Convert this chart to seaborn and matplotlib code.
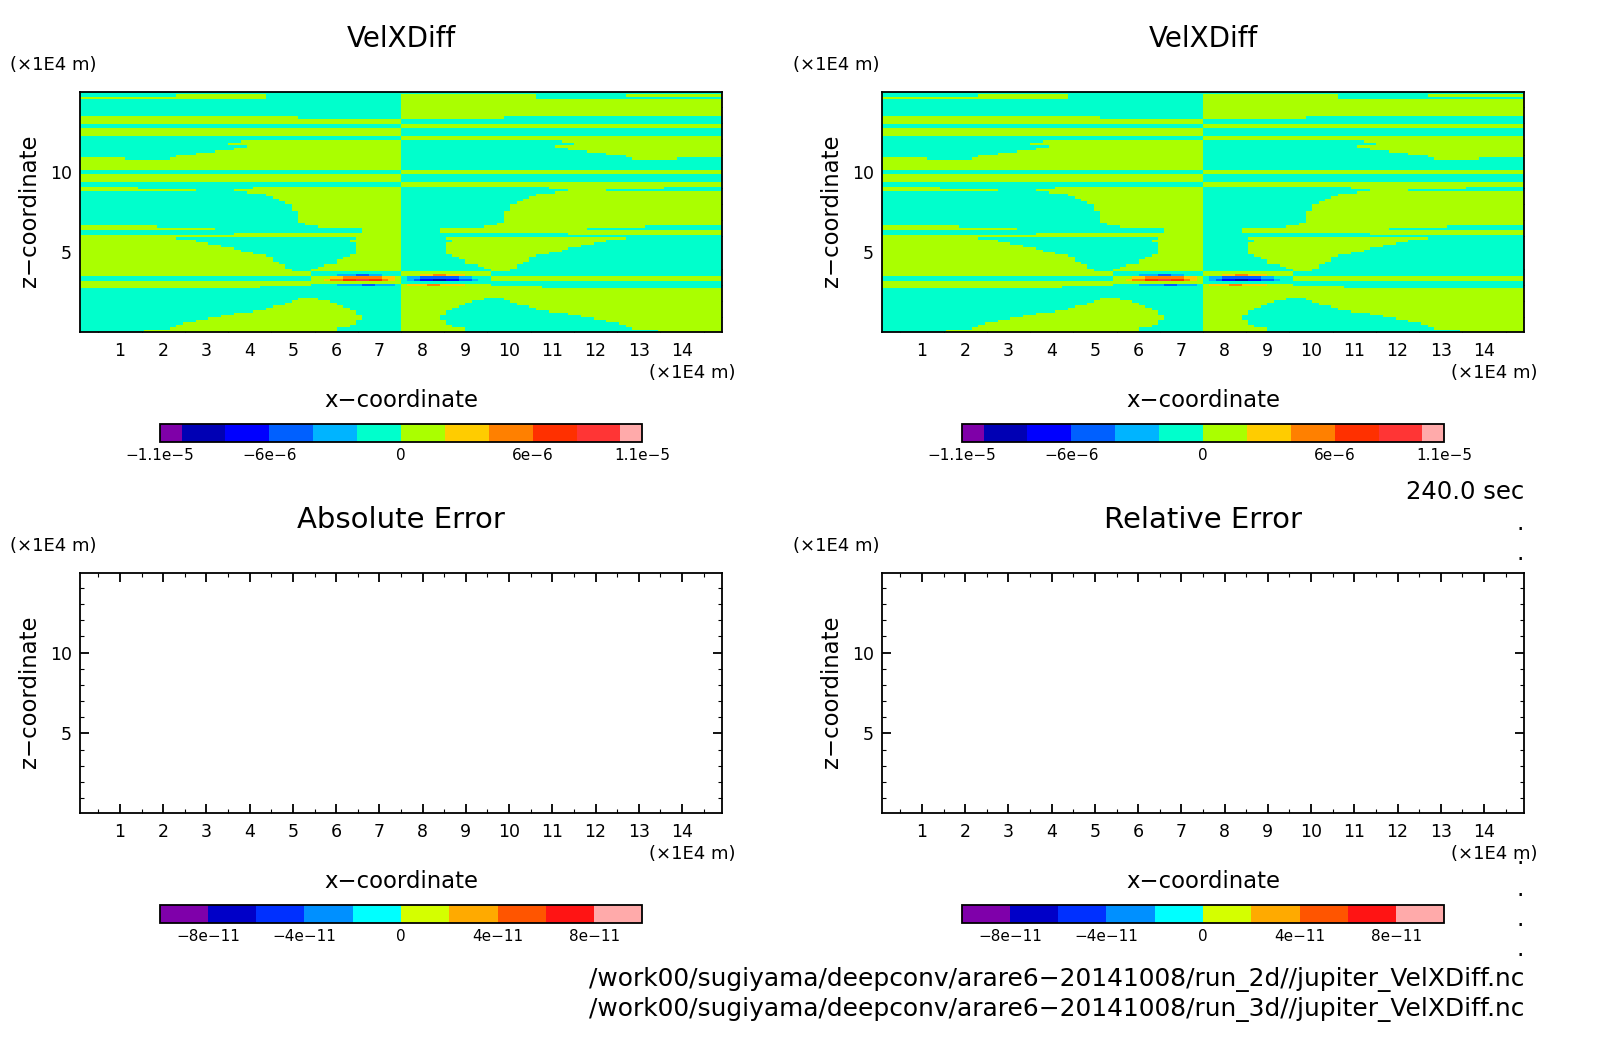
import numpy as np
import matplotlib
matplotlib.use("Agg")
import matplotlib.pyplot as plt
from matplotlib.colors import ListedColormap, BoundaryNorm
import seaborn as sns

W, H = 1604, 1054

# colour classes of the VelXDiff field (m/s, middle of each contour band)
band_value = {"K": -9e-6, "D": -7e-6, "B": -5e-6, "L": -3e-6, "C": -1e-6,
              "G": 1e-6, "Y": 3e-6, "O": 5e-6, "R": 7e-6, "S": 9e-6}

# rows top to bottom, "G29" = class G up to column 29
west_rows = [
    "C50", "C15 G29 C50", "G29 C50", "C50", "C50", "C50", "C50", "C50", "C50", "C50",
    "G34 C50", "G50", "G50", "C50", "C50", "G50", "G50", "G50", "C50", "C50",
    "C25 G50", "C23 G50", "C26 G50", "C24 G50", "C21 G50", "C18 G50", "C15 G50", "G7 C14 G50",
    "G50", "G50", "G50", "G50", "C50", "C50", "G50", "G50", "G50", "C50", "C50",
    "G9 C27 G50", "G18 C24 G50", "C26 G50", "C29 G50", "C30 G50", "C31 G50", "C32 G50",
    "C33 G50", "C33 G50", "C33 G50", "C34 G50", "C34 G50", "C34 G50", "C34 G50", "C34 G50",
    "C35 G50", "G12 C37 G50", "G21 C44 G50", "C44 G50", "C24 G50", "G50",
    "G15 C43 G50", "G18 C42 G50", "G20 C43 G50", "G22 C43 G50", "G24 C43 G50", "G25 C43 G50",
    "G27 C43 G50", "G29 C42 G50", "G30 C41 G50", "G30 C40 G50", "G31 C40 G50", "G32 C38 G50",
    "G32 C37 G50", "G33 C36 G50", "G36 C50", "G36 C40 L43 B45 L47 C50",
    "C36 G39 Y41 O47 Y49 G50", "C36 G38 Y39 O41 R43 S45 R47 O48 Y49 G50",
    "G50", "G36 C40 L44 B46 L49 C50", "G28 C50", "C50", "C50", "C50", "C50",
    "C34 G37 C50", "C33 G39 C50", "C32 G40 C50", "C30 G41 C50", "C29 G42 C50", "C27 G43 C50",
    "C24 G43 C50", "C22 G44 C50", "C20 G44 C50", "C18 G43 C50", "C16 G43 C50", "C15 G42 C50",
    "C14 G40 C50", "C10 G40 C50",
]
east_rows = [
    "C100", "G71 C85 G100", "G71 C100", "G100", "G100", "G100", "G100", "G100", "G100", "G100",
    "G66 C100", "C100", "C100", "G100", "G100", "C100", "C100", "C100", "G100", "G100",
    "C75 G100", "C77 G100", "C74 G100", "C76 G100", "C79 G100", "C82 G100", "C85 G100", "C86 G93 C100",
    "C100", "C100", "C100", "C100", "G100", "G100", "C100", "C100", "C100", "G100", "G100",
    "C73 G91 C100", "C76 G82 C100", "C74 G100", "C71 G100", "C70 G100", "C69 G100", "C68 G100",
    "C67 G100", "C67 G100", "C67 G100", "C66 G100", "C66 G100", "C66 G100", "C66 G100", "C66 G100",
    "C65 G100", "C63 G88 C100", "C56 G79 C100", "C56 G100", "C76 G100", "C100",
    "C57 G85 C100", "C58 G82 C100", "C57 G80 C100", "C57 G78 C100", "C57 G76 C100", "C57 G75 C100",
    "C57 G73 C100", "C58 G71 C100", "C59 G70 C100", "C60 G70 C100", "C60 G69 C100", "C62 G68 C100",
    "C63 G68 C100", "C64 G67 C100", "G64 C100", "G53 Y55 O57 Y60 G64 C100",
    "C51 L53 B59 L61 C64 G100", "C51 L52 B53 D55 K57 D59 B61 L62 C64 G100",
    "C100", "G51 Y54 O56 Y60 G64 C100", "G72 C100", "G100", "G100", "G100", "G100",
    "G63 C66 G100", "G61 C67 G100", "G60 C68 G100", "G59 C70 G100", "G58 C71 G100", "G57 C73 G100",
    "G57 C76 G100", "G56 C78 G100", "G56 C80 G100", "G57 C82 G100", "G57 C84 G100", "G58 C85 G100",
    "G60 C86 G100", "G60 C90 G100",
]

vel_levels = [-1.1e-5, -1e-5, -8e-6, -6e-6, -4e-6, -2e-6, 0, 2e-6, 4e-6, 6e-6, 8e-6, 1e-5, 1.1e-5]
vel_colors = ["#7f00a8", "#0000b4", "#0000ff", "#0060ff", "#00b4ff", "#00ffcc",
              "#aaff00", "#ffcc00", "#ff8000", "#ff3000", "#ff3535", "#ffaaaa"]
vel_ticks = [-1.1e-5, -6e-6, 0, 6e-6, 1.1e-5]
vel_ticklabels = ["−1.1e−5", "−6e−6", "0", "6e−6", "1.1e−5"]

err_levels = [-1e-10, -8e-11, -6e-11, -4e-11, -2e-11, 0, 2e-11, 4e-11, 6e-11, 8e-11, 1e-10]
err_colors = ["#7f00aa", "#0000c8", "#0030ff", "#0090ff", "#00ffff",
              "#d4ff00", "#ffaa00", "#ff5500", "#ff1414", "#ffaaaa"]
err_ticks = [-8e-11, -4e-11, 0, 4e-11, 8e-11]
err_ticklabels = ["−8e−11", "−4e−11", "0", "4e−11", "8e−11"]

x_major = list(range(1, 15))
x_minor = [i + 0.5 for i in range(0, 15)]
z_major = [5, 10]
z_minor = [1, 2, 3, 4, 6, 7, 8, 9, 11, 12, 13, 14]
coord_min, coord_max = 0.075, 14.925

panel_titles = ["VelXDiff", "VelXDiff", "Absolute Error", "Relative Error"]
title_sizes = [20, 20, 21, 21]
file_names = ["/work00/sugiyama/deepconv/arare6−20141008/run_2d//jupiter_VelXDiff.nc",
              "/work00/sugiyama/deepconv/arare6−20141008/run_3d//jupiter_VelXDiff.nc"]
time_label = "240.0 sec"


def expand(row, start):
    cells = []
    for token in row.split():
        cells += [band_value[token[0]]] * (int(token[1:]) - start - len(cells))
    return cells


vel_field = np.array([expand(w, 0) + expand(e, 50) for w, e in zip(west_rows, east_rows)])
err_field = np.full(vel_field.shape, np.nan)  # nothing is coloured in the error panels

sns.set_theme(style="white")
plt.rcParams["font.family"] = ["DejaVu Sans"]
plt.rcParams["text.color"] = "black"
plt.rcParams["xtick.color"] = "black"
plt.rcParams["ytick.color"] = "black"

fig = plt.figure(figsize=(W / 100, H / 100), dpi=100, facecolor="white")


def px_axes(left, top, width, height):
    return fig.add_axes([left / W, 1 - (top + height) / H, width / W, height / H])


def px_text(x, y, s, size, **kw):
    kw.setdefault("ha", "center")
    kw.setdefault("va", "center")
    fig.text(x / W, 1 - y / H, s, fontsize=size, **kw)


def to_col(x, n):
    return (np.array(x) - coord_min) / (coord_max - coord_min) * n


def to_row(z, n):
    return (coord_max - np.array(z)) / (coord_max - coord_min) * n


for i in range(4):
    col_dx = 802 * (i % 2)
    row_dy = 481 * (i // 2)
    if i < 2:
        field, levels, colors, ticks, labels = vel_field, vel_levels, vel_colors, vel_ticks, vel_ticklabels
    else:
        field, levels, colors, ticks, labels = err_field, err_levels, err_colors, err_ticks, err_ticklabels

    ax = px_axes(80 + col_dx, 92 + row_dy, 642, 240)
    cax = px_axes(159.6 + col_dx, 423.5 + row_dy, 482.8, 18)
    norm = BoundaryNorm(levels, len(colors))
    sns.heatmap(field, ax=ax, cmap=ListedColormap(colors), norm=norm, vmin=levels[0], vmax=levels[-1],
                xticklabels=False, yticklabels=False, cbar=True, cbar_ax=cax,
                cbar_kws={"orientation": "horizontal", "spacing": "proportional", "ticks": ticks})

    nz, nx = field.shape
    ax.set_xticks(to_col(x_major, nx), labels=[str(v) for v in x_major], fontsize=12.5)
    ax.set_xticks(to_col(x_minor, nx), minor=True)
    ax.set_yticks(to_row(z_major, nz), labels=[str(v) for v in z_major], fontsize=12.5)
    ax.set_yticks(to_row(z_minor, nz), minor=True)
    ax.tick_params(which="major", direction="in", top=True, right=True, bottom=True, left=True,
                   length=6.5, width=1.3, pad=6)
    ax.tick_params(which="minor", direction="in", top=True, right=True, bottom=True, left=True,
                   length=3.2, width=0.8)
    ax.tick_params(axis="x", which="major", pad=7)
    for side in ax.spines.values():
        side.set_visible(True)
        side.set_linewidth(1.3)
        side.set_color("black")

    cbar = ax.collections[0].colorbar
    cbar.set_ticks(ticks, labels=labels, fontsize=11)
    cbar.ax.minorticks_off()
    cbar.ax.tick_params(length=0, pad=5)
    cbar.outline.set_linewidth(1.3)
    cbar.outline.set_edgecolor("black")

    px_text(401 + col_dx, 39 + row_dy, panel_titles[i], title_sizes[i])
    px_text(10 + 783 * (i % 2), 65 + row_dy, "(×1E4 m)", 13, ha="left")
    px_text(735.5 + col_dx, 373 + row_dy, "(×1E4 m)", 13, ha="right")
    px_text(401 + col_dx, 401 + row_dy, "x−coordinate", 16.4)
    px_text(29.5 + col_dx, 211 + row_dy, "z−coordinate", 16.4, rotation=90)

px_text(1524, 492, time_label, 17.5, ha="right")
px_text(1524, 979, file_names[0], 17.9, ha="right")
px_text(1524, 1010, file_names[1], 17.9, ha="right")
for dot_y in [530, 560.5, 864, 895.5, 925.5, 956.5]:
    px_text(1520, dot_y, ".", 17, va="baseline")

fig.savefig("out.png", dpi=100)
